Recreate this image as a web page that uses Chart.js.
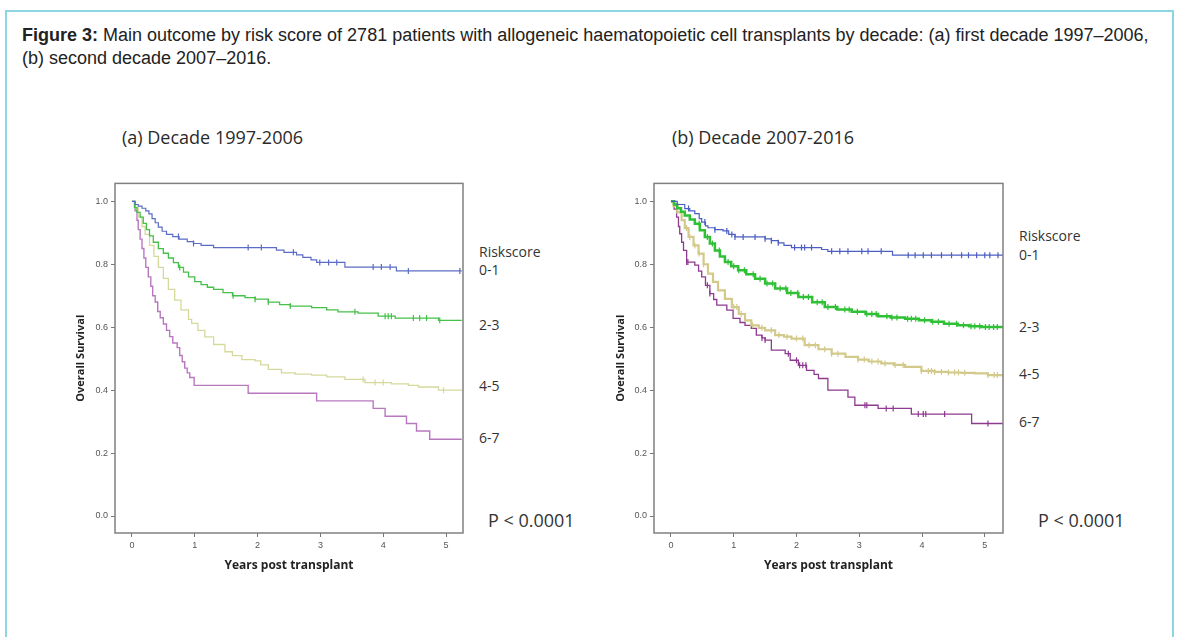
<!DOCTYPE html>
<html>
<head>
<meta charset="utf-8">
<script src="https://cdn.jsdelivr.net/npm/chart.js@4/dist/chart.umd.min.js"></script>
<style>
  body { margin: 0; background: #fff; width: 1179px; height: 637px; overflow: hidden; position: relative; font-family: "Liberation Sans", Arial, sans-serif; }
  .frame { position: absolute; left: 5px; top: 10px; width: 1165px; height: 700px; border: 2px solid #8dd5e2; }
  .caption { position: absolute; left: 22px; top: 24px; width: 1145px; font-size: 18px; line-height: 23px; color: #222; }
  .ttl { position: absolute; font-family: "Open Sans", sans-serif; font-size: 18px; color: #2a2a2a; line-height: 22px; }
  .lbl { position: absolute; font-family: "Open Sans", sans-serif; font-size: 14px; color: #333; line-height: 18px; }
  .pval { position: absolute; font-family: "Open Sans", sans-serif; font-size: 18px; color: #333; line-height: 22px; }
  canvas { position: absolute; }
</style>
</head>
<body>
<div class="frame"></div>
<div class="caption"><b>Figure 3:</b> Main outcome by risk score of 2781 patients with allogeneic haematopoietic cell transplants by decade: (a) first decade 1997–2006, (b) second decade 2007–2016.</div>

<div class="ttl" style="left:122px; top:126px;">(a) Decade 1997-2006</div>
<div class="ttl" style="left:672px; top:126px;">(b) Decade 2007-2016</div>

<canvas id="chartA" width="410" height="400" style="left:60px; top:175px;"></canvas>
<canvas id="chartB" width="410" height="400" style="left:600px; top:175px;"></canvas>

<div class="lbl" style="left:479px; top:243px;">Riskscore</div>
<div class="lbl" style="left:479px; top:261px;">0-1</div>
<div class="lbl" style="left:479px; top:316px;">2-3</div>
<div class="lbl" style="left:479px; top:377px;">4-5</div>
<div class="lbl" style="left:479px; top:429px;">6-7</div>
<div class="pval" style="left:488px; top:509px;">P &lt; 0.0001</div>

<div class="lbl" style="left:1019px; top:227px;">Riskscore</div>
<div class="lbl" style="left:1019px; top:246px;">0-1</div>
<div class="lbl" style="left:1019px; top:318px;">2-3</div>
<div class="lbl" style="left:1019px; top:365px;">4-5</div>
<div class="lbl" style="left:1019px; top:413px;">6-7</div>
<div class="pval" style="left:1038px; top:509px;">P &lt; 0.0001</div>

<script>
// tick values
const xTicks = [0, 1, 2, 3, 4, 5];
const yTicks = [0, 0.2, 0.4, 0.6, 0.8, 1.0];

// (a) decade 1997-2006 : step times (years) and survival
const aBlueT = [0, 0.05, 0.1, 0.16, 0.22, 0.27, 0.32, 0.37, 0.42, 0.48, 0.55, 0.65, 0.75, 0.88, 0.98, 1.1, 1.3, 2.3, 2.42, 2.5, 2.62, 2.72, 2.85, 2.94, 3.39, 4.21, 5.25];
const aBlueS = [1, 0.99, 0.985, 0.978, 0.97, 0.96, 0.945, 0.932, 0.918, 0.905, 0.895, 0.888, 0.88, 0.872, 0.866, 0.86, 0.853, 0.845, 0.838, 0.838, 0.83, 0.822, 0.814, 0.806, 0.791, 0.779, 0.779];
const aGreenT = [0, 0.04, 0.08, 0.13, 0.18, 0.23, 0.28, 0.34, 0.42, 0.5, 0.58, 0.66, 0.74, 0.82, 0.9, 1.0, 1.1, 1.2, 1.3, 1.45, 1.6, 1.8, 1.96, 2.17, 2.35, 2.52, 2.86, 3.1, 3.28, 3.6, 3.92, 4.19, 4.88, 5.25];
const aGreenS = [1, 0.98, 0.965, 0.95, 0.93, 0.91, 0.89, 0.87, 0.85, 0.835, 0.82, 0.805, 0.79, 0.775, 0.76, 0.745, 0.735, 0.727, 0.72, 0.71, 0.7, 0.694, 0.689, 0.68, 0.672, 0.667, 0.662, 0.655, 0.649, 0.645, 0.635, 0.629, 0.622, 0.622];
const aYellowT = [0, 0.04, 0.1, 0.16, 0.21, 0.28, 0.35, 0.42, 0.5, 0.58, 0.68, 0.78, 0.9, 0.95, 1.05, 1.16, 1.3, 1.48, 1.6, 1.75, 1.96, 2.05, 2.17, 2.38, 2.6, 2.86, 3.1, 3.39, 3.71, 4.13, 4.4, 4.56, 4.88, 5.25];
const aYellowS = [1, 0.98, 0.95, 0.92, 0.895, 0.86, 0.825, 0.79, 0.755, 0.72, 0.686, 0.655, 0.625, 0.612, 0.59, 0.569, 0.545, 0.522, 0.51, 0.497, 0.493, 0.48, 0.466, 0.455, 0.451, 0.448, 0.442, 0.434, 0.424, 0.42, 0.415, 0.41, 0.4, 0.398];
const aPurpleT = [0, 0.05, 0.08, 0.1, 0.13, 0.16, 0.19, 0.22, 0.26, 0.3, 0.33, 0.37, 0.41, 0.45, 0.5, 0.55, 0.6, 0.65, 0.72, 0.76, 0.8, 0.84, 0.88, 0.92, 0.99, 1.85, 2.94, 3.84, 4.03, 4.37, 4.53, 4.74, 5.25];
const aPurpleS = [1, 0.97, 0.94, 0.91, 0.88, 0.85, 0.82, 0.79, 0.76, 0.73, 0.7, 0.68, 0.65, 0.63, 0.61, 0.59, 0.57, 0.55, 0.535, 0.51, 0.49, 0.47, 0.455, 0.44, 0.415, 0.39, 0.366, 0.342, 0.317, 0.294, 0.27, 0.244, 0.244];
// censor times
const aBlueC = [0.74, 0.98, 1.85, 2.06, 2.57, 2.99, 3.13, 3.26, 3.84, 3.97, 4.11, 4.4, 5.22];
const aGreenC = [0.76, 1.61, 1.96, 2.17, 2.52, 3.55, 4.03, 4.08, 4.13, 4.48, 4.58, 4.69, 4.9];
const aYellowC = [3.68, 3.87, 4.0, 4.96];
const aPurpleC = [];

// (b) decade 2007-2016
const bBlueT = [0, 0.1, 0.22, 0.3, 0.38, 0.45, 0.49, 0.55, 0.59, 0.7, 0.83, 0.92, 1.02, 1.5, 1.6, 1.71, 1.8, 1.92, 2.4, 2.5, 3.53, 5.29];
const bBlueS = [1, 0.99, 0.977, 0.97, 0.961, 0.945, 0.934, 0.922, 0.916, 0.91, 0.906, 0.895, 0.887, 0.881, 0.875, 0.868, 0.86, 0.853, 0.847, 0.841, 0.829, 0.829];
const bGreenT = [0, 0.05, 0.1, 0.16, 0.22, 0.3, 0.38, 0.46, 0.54, 0.62, 0.7, 0.78, 0.86, 0.96, 1.07, 1.2, 1.34, 1.5, 1.66, 1.85, 2.03, 2.25, 2.45, 2.65, 2.88, 3.1, 3.3, 3.5, 3.73, 3.95, 4.15, 4.35, 4.57, 4.75, 4.95, 5.29];
const bGreenS = [1, 0.99, 0.978, 0.967, 0.955, 0.942, 0.929, 0.908, 0.887, 0.866, 0.844, 0.825, 0.807, 0.794, 0.781, 0.768, 0.754, 0.739, 0.723, 0.709, 0.696, 0.679, 0.664, 0.656, 0.649, 0.642, 0.635, 0.631, 0.627, 0.622, 0.617, 0.611, 0.606, 0.603, 0.601, 0.599];
const bYellowT = [0, 0.04, 0.1, 0.17, 0.22, 0.28, 0.36, 0.44, 0.52, 0.59, 0.67, 0.75, 0.86, 0.97, 1.08, 1.18, 1.28, 1.4, 1.5, 1.66, 1.8, 1.92, 2.13, 2.35, 2.56, 2.78, 2.98, 3.15, 3.35, 3.55, 3.73, 3.99, 4.2, 4.42, 4.63, 4.84, 5.05, 5.29];
const bYellowS = [1, 0.985, 0.965, 0.94, 0.915, 0.887, 0.86, 0.834, 0.8, 0.77, 0.744, 0.717, 0.69, 0.664, 0.642, 0.622, 0.606, 0.598, 0.59, 0.575, 0.57, 0.564, 0.543, 0.53, 0.516, 0.506, 0.497, 0.491, 0.485, 0.48, 0.474, 0.461, 0.458, 0.456, 0.455, 0.453, 0.448, 0.442];
const bPurpleT = [0, 0.05, 0.09, 0.12, 0.14, 0.17, 0.2, 0.25, 0.38, 0.44, 0.49, 0.55, 0.62, 0.68, 0.73, 0.89, 0.99, 1.1, 1.18, 1.28, 1.36, 1.45, 1.5, 1.6, 1.82, 1.9, 2.03, 2.16, 2.28, 2.35, 2.5, 2.82, 2.93, 3.3, 3.83, 4.79, 5.29];
const bPurpleS = [1, 0.975, 0.95, 0.92, 0.897, 0.87, 0.844, 0.807, 0.797, 0.778, 0.76, 0.733, 0.707, 0.688, 0.67, 0.654, 0.628, 0.615, 0.606, 0.596, 0.575, 0.566, 0.559, 0.527, 0.516, 0.495, 0.479, 0.463, 0.45, 0.437, 0.4, 0.378, 0.352, 0.342, 0.324, 0.294, 0.294];
const bBlueC = [0.28, 0.54, 0.7, 0.89, 0.97, 1.02, 1.15, 1.34, 1.5, 1.6, 1.71, 1.97, 2.08, 2.13, 2.24, 2.56, 2.69, 2.82, 3.04, 3.14, 3.35, 3.78, 3.89, 4.02, 4.15, 4.31, 4.47, 4.63, 4.74, 4.87, 5.0, 5.08, 5.21];
const bGreenC = [0.45, 0.58, 0.66, 0.77, 0.91, 1.0, 1.08, 1.17, 1.31, 1.42, 1.53, 1.62, 1.74, 1.83, 1.91, 2.02, 2.11, 2.19, 2.33, 2.41, 2.5, 2.62, 2.77, 2.84, 2.97, 3.12, 3.2, 3.27, 3.44, 3.52, 3.6, 3.77, 3.83, 3.9, 4.04, 4.17, 4.26, 4.43, 4.55, 4.66, 4.78, 4.84, 4.92, 5.01, 5.07, 5.14, 5.2];
const bYellowC = [0.25, 0.3, 0.38, 0.45, 0.52, 1.0, 1.05, 1.12, 1.3, 1.45, 1.6, 1.72, 1.85, 2.0, 2.1, 2.2, 2.3, 2.45, 2.56, 2.66, 2.98, 3.08, 3.2, 3.3, 3.41, 3.57, 3.7, 3.99, 4.1, 4.15, 4.2, 4.31, 4.42, 4.52, 4.58, 4.68, 5.05, 5.15, 5.2];
const bPurpleC = [0.25, 0.27, 0.58, 0.62, 1.45, 1.5, 1.87, 2.0, 2.05, 2.1, 2.15, 3.09, 3.12, 3.43, 3.54, 3.94, 4.02, 4.06, 4.36, 5.05];

// survival value at time t from a step curve
const survAt = (times, surv, t) => {
  let s = surv[0];
  for (let i = 0; i < times.length; i++) {
    if (times[i] <= t) s = surv[i];
  }
  return s;
};

const frame = {
  id: "frame",
  afterDatasetsDraw(chart) {
    const { ctx, chartArea: a } = chart;
    ctx.save();
    ctx.strokeStyle = "#808080";
    ctx.lineWidth = 1.5;
    ctx.strokeRect(a.left, a.top, a.right - a.left, a.bottom - a.top);
    ctx.restore();
  },
};

const makeChart = (id, curves, xMin, xMax, yWidth) => {
  const datasets = [];
  curves.forEach((c) => {
    datasets.push({
      data: c.t.map((t, i) => ({ x: t, y: c.s[i] })),
      borderColor: c.color,
      borderWidth: c.width,
      stepped: "before",
      pointRadius: 0,
      fill: false,
    });
    datasets.push({
      data: c.c.map((t) => ({ x: t, y: survAt(c.t, c.s, t) })),
      showLine: false,
      borderColor: c.color,
      borderWidth: 1.2,
      pointStyle: "line",
      rotation: 90,
      pointRadius: 3,
    });
  });

  return new Chart(document.getElementById(id).getContext("2d"), {
    type: "line",
    data: { datasets },
    plugins: [frame],
    options: {
      responsive: false,
      animation: false,
      layout: { padding: { top: 8, right: 7, left: 0, bottom: 0 } },
      plugins: { legend: { display: false }, tooltip: { enabled: false } },
      scales: {
        x: {
          type: "linear",
          min: xMin,
          max: xMax,
          afterBuildTicks: (s) => { s.ticks = xTicks.map((v) => ({ value: v })); },
          afterFit: (s) => { s.height = 42; },
          border: { display: false },
          grid: { drawOnChartArea: false, tickLength: 4, color: "#777" },
          ticks: { padding: 3, color: "#555", font: { family: "Liberation Sans", size: 9 } },
          title: {
            display: true,
            text: "Years post transplant",
            color: "#222",
            padding: { top: 0, bottom: 2 },
            font: { family: "Open Sans", size: 12, weight: "bold" },
          },
        },
        y: {
          type: "linear",
          min: -0.054,
          max: 1.057,
          afterBuildTicks: (s) => { s.ticks = yTicks.map((v) => ({ value: v })); },
          afterFit: (s) => { s.width = yWidth; },
          border: { display: false },
          grid: { drawOnChartArea: false, tickLength: 4, color: "#777" },
          ticks: {
            padding: 3,
            color: "#555",
            font: { family: "Liberation Sans", size: 9 },
            callback: (v) => v.toFixed(1),
          },
          title: {
            display: true,
            text: "Overall Survival",
            color: "#222",
            padding: { top: 14, bottom: 0 },
            font: { family: "Open Sans", size: 11, weight: "bold" },
          },
        },
      },
    },
  });
};

makeChart("chartA", [
  { t: aBlueT, s: aBlueS, c: aBlueC, color: "#5b6cc4", width: 1.2 },
  { t: aGreenT, s: aGreenS, c: aGreenC, color: "#45c048", width: 1.3 },
  { t: aYellowT, s: aYellowS, c: aYellowC, color: "#d5d99c", width: 1.3 },
  { t: aPurpleT, s: aPurpleS, c: aPurpleC, color: "#b878c0", width: 1.4 },
], -0.27, 5.27, 55);

makeChart("chartB", [
  { t: bBlueT, s: bBlueS, c: bBlueC, color: "#4c5ec2", width: 1.2 },
  { t: bGreenT, s: bGreenS, c: bGreenC, color: "#2fc035", width: 2.5 },
  { t: bYellowT, s: bYellowS, c: bYellowC, color: "#d2c98a", width: 2.2 },
  { t: bPurpleT, s: bPurpleS, c: bPurpleC, color: "#8e3a90", width: 1.3 },
], -0.27, 5.29, 54);
</script>
</body>
</html>
